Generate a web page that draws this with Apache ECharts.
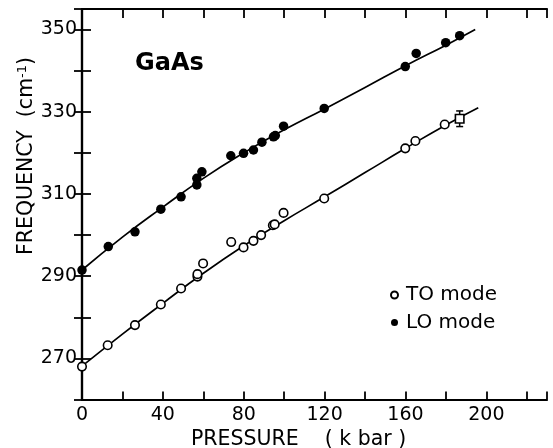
<!DOCTYPE html>
<html>
<head>
<meta charset="utf-8">
<script src="https://cdn.jsdelivr.net/npm/echarts@6/dist/echarts.min.js"></script>
<style>
html,body{margin:0;padding:0;background:#fff;}
#chart{width:553px;height:448px;}
</style>
</head>
<body>
<div id="chart"></div>
<script>
// ---- data ----
var pressureTO = [0, 12.7, 26.2, 39, 49, 57.1, 57.1, 59.9, 73.8, 79.9, 84.8, 88.6, 94.4, 95.3, 99.7, 119.8, 159.9, 164.9, 179.4, 186.8];
var freqTO     = [268.0, 273.2, 278.1, 283.1, 287.0, 289.9, 290.5, 293.1, 298.3, 297.0, 298.6, 300.0, 302.4, 302.6, 305.4, 308.9, 321.1, 322.9, 326.9, 328.3];
var pressureLO = [0, 13, 26.2, 39, 49, 56.8, 56.8, 59.3, 73.6, 79.9, 84.8, 89, 94.7, 95.6, 99.7, 119.8, 159.9, 165.3, 179.9, 186.8];
var freqLO     = [291.5, 297.2, 300.8, 306.3, 309.3, 312.2, 313.8, 315.4, 319.3, 319.9, 320.7, 322.6, 323.9, 324.2, 326.5, 330.8, 341.0, 344.2, 346.8, 348.5];
// fitted curves as drawn in the reference
var curvePressureTO = [0, 20, 40, 60, 80, 100, 120, 140, 160, 180, 196];
var curveTO         = [268.1, 275.9, 283.4, 290.7, 297.4, 303.5, 309.3, 315.2, 321.1, 326.8, 331.0];
var curvePressureLO = [0, 20, 40, 60, 80, 100, 120, 140, 160, 180, 194.5];
var curveLO         = [291.5, 299.5, 306.8, 313.8, 320.0, 325.6, 330.7, 335.9, 341.2, 346.2, 350.0];
// error bar on last TO point: [pressure, low, high]
var errorBars = [[186.8, 326.4, 330.2]];
// axes
var xMin = 0, xMax = 230, xStep = 20, xLabelStep = 40;
var yMin = 260, yMax = 355, yStep = 10;
var yLabels = [270, 290, 310, 330, 350];

function pairs(xs, ys) { return xs.map(function (x, i) { return [x, ys[i]]; }); }

var toData = pairs(pressureTO, freqTO).map(function (p, i) {
  if (i === pressureTO.length - 1) return { value: p, symbol: 'rect' };
  return p;
});

var chart = echarts.init(document.getElementById('chart'), null, { renderer: 'canvas' });
var FONT = 'DejaVu Sans';
var axisLineStyle = { color: '#000', width: 2.2 };
var tickStyle = { color: '#000', width: 1.8 };

var option = {
  backgroundColor: '#fff',
  animation: false,
  grid: { left: 82, right: 6, top: 9, bottom: 48.5 },
  xAxis: [
    {
      type: 'value', min: xMin, max: xMax, interval: xStep, position: 'bottom',
      axisLine: { show: true, lineStyle: axisLineStyle },
      axisTick: { show: true, inside: true, length: 8, lineStyle: tickStyle },
      splitLine: { show: false },
      axisLabel: {
        margin: 6, color: '#000', fontFamily: FONT, fontSize: 19,
        formatter: function (v) { return (v % xLabelStep === 0 && v <= 200) ? String(v) : ''; }
      }
    },
    {
      type: 'value', min: xMin, max: xMax, interval: xStep, position: 'top',
      axisLine: { show: true, lineStyle: axisLineStyle },
      axisTick: { show: true, inside: true, length: 9, lineStyle: tickStyle },
      splitLine: { show: false }, axisLabel: { show: false }
    }
  ],
  yAxis: [
    {
      type: 'value', min: yMin, max: yMax, interval: yStep, position: 'left',
      axisLine: { show: true, lineStyle: axisLineStyle },
      axisTick: { show: true, inside: true, length: 9, lineStyle: tickStyle },
      splitLine: { show: false },
      axisLabel: {
        margin: 5, color: '#000', fontFamily: FONT, fontSize: 19,
        formatter: function (v) { return yLabels.indexOf(v) >= 0 ? String(v) : ''; }
      }
    },
    {
      type: 'value', min: yMin, max: yMax, interval: yStep, position: 'right',
      axisLine: { show: true, lineStyle: axisLineStyle },
      axisTick: { show: true, inside: true, length: 8, lineStyle: tickStyle },
      splitLine: { show: false }, axisLabel: { show: false }
    }
  ],
  legend: {
    data: ['TO mode', 'LO mode'],
    orient: 'vertical',
    left: 385, top: 280,
    itemWidth: 7, itemHeight: 7, itemGap: 7.5,
    icon: 'circle',
    textStyle: { color: '#000', fontFamily: FONT, fontSize: 20, lineHeight: 18, padding: [0, 0, 0, 3] }
  },
  graphic: [
    {
      type: 'text', left: 135, top: 52,
      style: { text: 'GaAs', font: 'bold 24px "DejaVu Sans"', fill: '#000' }
    },
    {
      type: 'text', x: 191, y: 440,
      style: {
        text: 'PRESSURE    ( k bar )', font: '20.5px "DejaVu Sans"', fill: '#000',
        textAlign: 'left', textVerticalAlign: 'middle'
      }
    },
    {
      type: 'text', x: 27, y: 156, rotation: Math.PI / 2,
      style: {
        text: '{a|FREQUENCY  (cm}{s|-1}{a|)}',
        textAlign: 'center', textVerticalAlign: 'middle',
        rich: {
          a: { font: '20.5px "DejaVu Sans"', fill: '#000', verticalAlign: 'bottom' },
          s: { font: '13px "DejaVu Sans"', fill: '#000', verticalAlign: 'top', padding: [0, 0, 8, 0] }
        }
      }
    }
  ],
  series: [
    {
      type: 'line', data: pairs(curvePressureTO, curveTO), smooth: true, showSymbol: false,
      lineStyle: { color: '#000', width: 1.7 }, silent: true, z: 2
    },
    {
      type: 'line', data: pairs(curvePressureLO, curveLO), smooth: true, showSymbol: false,
      lineStyle: { color: '#000', width: 1.7 }, silent: true, z: 2
    },
    {
      type: 'custom', z: 3,
      data: errorBars,
      encode: { x: 0, y: [1, 2] },
      renderItem: function (params, api) {
        var lo = api.coord([api.value(0), api.value(1)]);
        var hi = api.coord([api.value(0), api.value(2)]);
        var w = 3.5;
        var st = { stroke: '#000', lineWidth: 1.5 };
        return {
          type: 'group',
          children: [
            { type: 'line', shape: { x1: lo[0], y1: lo[1], x2: hi[0], y2: hi[1] }, style: st },
            { type: 'line', shape: { x1: lo[0] - w, y1: lo[1], x2: lo[0] + w, y2: lo[1] }, style: st },
            { type: 'line', shape: { x1: hi[0] - w, y1: hi[1], x2: hi[0] + w, y2: hi[1] }, style: st }
          ]
        };
      }
    },
    {
      name: 'TO mode', type: 'scatter', data: toData, symbol: 'circle', symbolSize: 8.5,
      itemStyle: { color: '#fff', borderColor: '#000', borderWidth: 1.6, opacity: 1 }, z: 4
    },
    {
      name: 'LO mode', type: 'scatter', data: pairs(pressureLO, freqLO), symbol: 'circle', symbolSize: 9.5,
      itemStyle: { color: '#000', borderColor: '#000', borderWidth: 0, opacity: 1 }, z: 4
    }
  ]
};
chart.setOption(option);
</script>
</body>
</html>
